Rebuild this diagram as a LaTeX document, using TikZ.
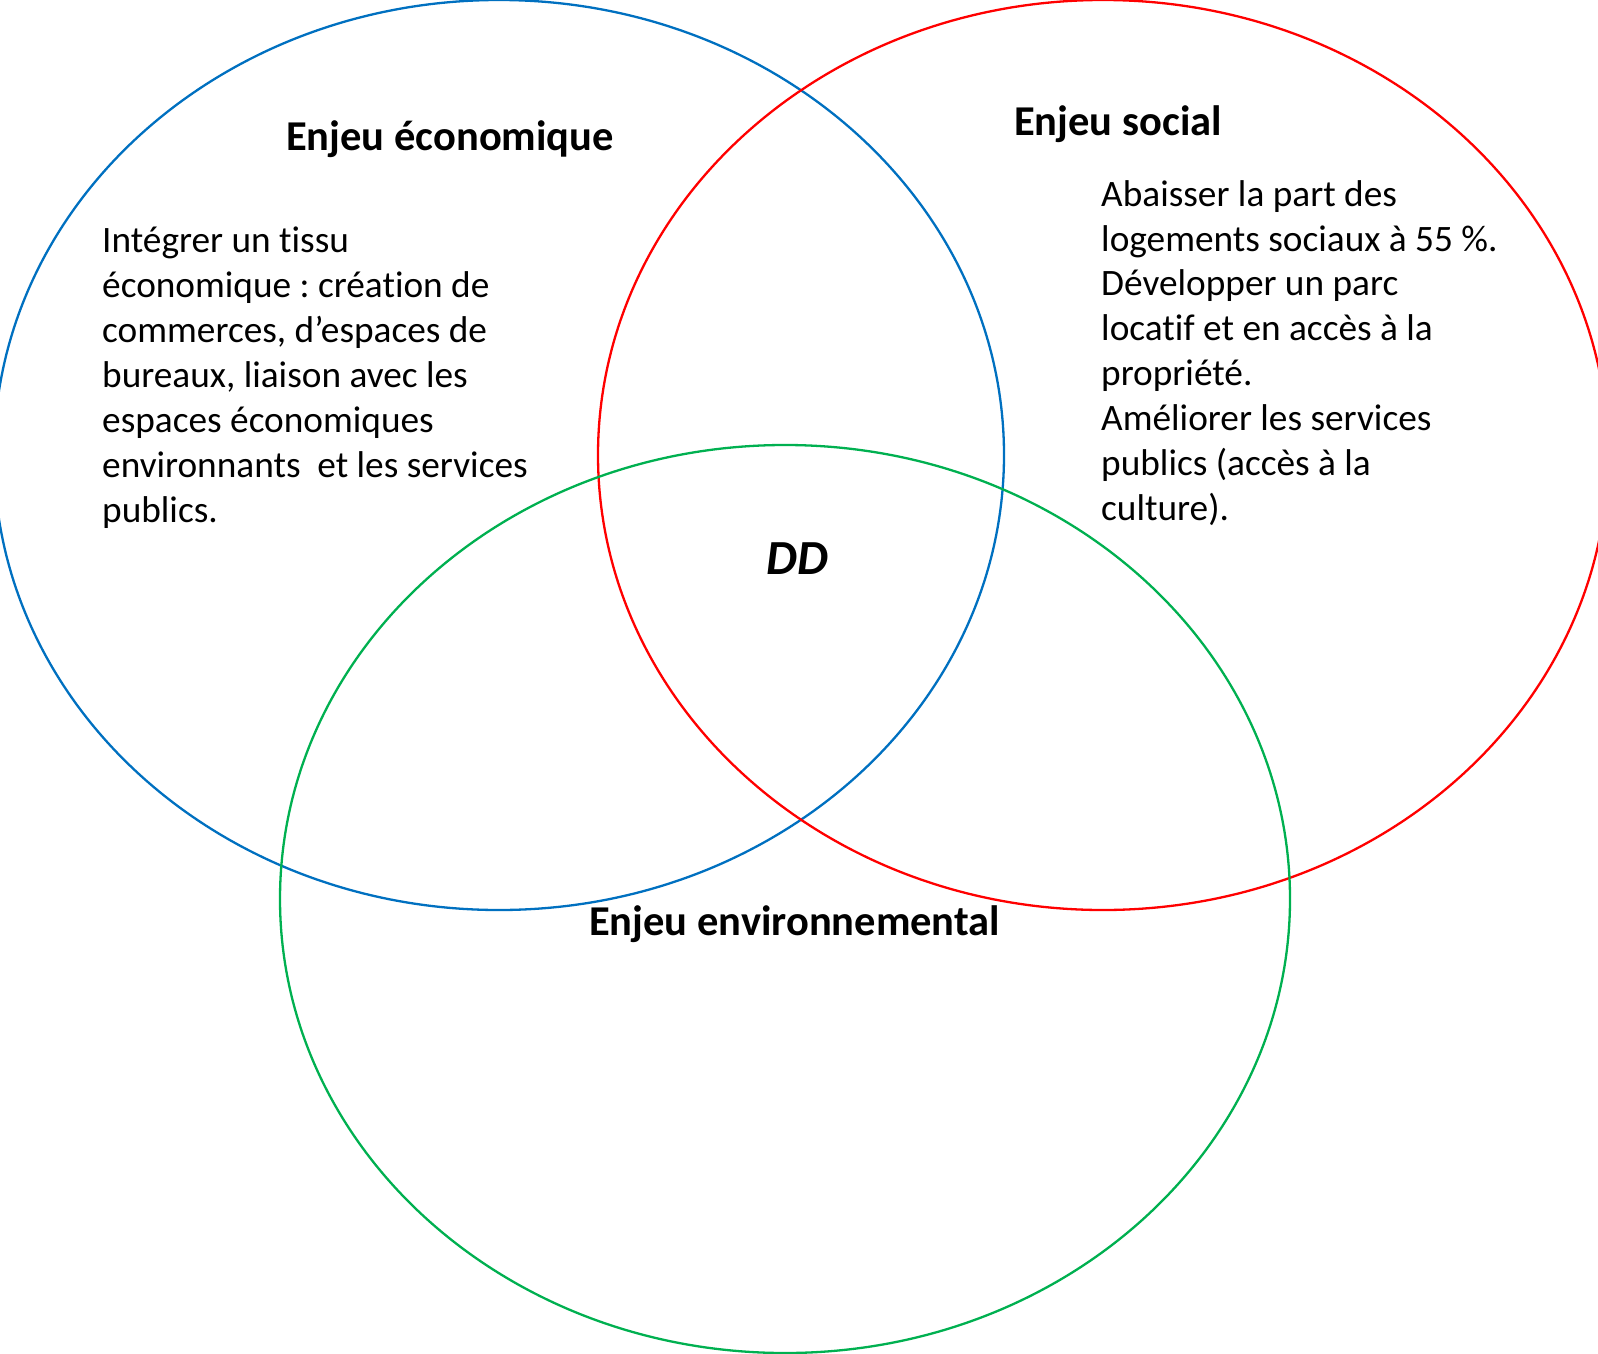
\documentclass[tikz,border=0pt]{standalone}
\usepackage{fontspec}
\setmainfont{Carlito}[Ligatures={NoCommon}]
\definecolor{eblue}{RGB}{0,112,192}
\definecolor{ered}{RGB}{255,0,0}
\definecolor{egreen}{RGB}{0,176,80}
\frenchspacing
\begin{document}
\begin{tikzpicture}[x=1pt,y=-1pt,
  ring/.style={line width=2.3pt},
  head/.style={inner sep=0pt,anchor=base west,font=\fontsize{42.5}{50}\selectfont\bfseries},
  body/.style={inner sep=0pt,anchor=north west,align=left,font=\fontsize{37.3}{44.9}\selectfont}]
\useasboundingbox (0,0) rectangle (1598,1354);
\begin{scope}
\clip (0,0) rectangle (1598,1354);
\draw[ring,eblue] (499,455) ellipse [x radius=505, y radius=455];
\draw[ring,ered] (1103,455) ellipse [x radius=505, y radius=455];
\draw[ring,egreen] (785,899) ellipse [x radius=505, y radius=454];
\end{scope}
\node[head] (eco) at (286,150) {Enjeu économique};
\node[head] (soc) at (1014,135) {Enjeu social};
\node[head] (env) at (589,935) {Enjeu environnemental};
\node[inner sep=0pt,anchor=base west,font=\fontsize{49}{55}\selectfont\bfseries\itshape] (dd) at (766,574) {DD};
\node[body] (ecot) at (102,227) {Intégrer un tissu\\économique : création de\\commerces, d’espaces de\\bureaux, liaison avec les\\espaces économiques\\environnants \ et les services\\publics.};
\node[body] (soct) at (1101,180) {Abaisser la part des\\logements sociaux à 55 \%.\\Développer un parc\\locatif et en accès à la\\propriété.\\Améliorer les services\\publics (accès à la\\culture).};
\end{tikzpicture}
\end{document}
